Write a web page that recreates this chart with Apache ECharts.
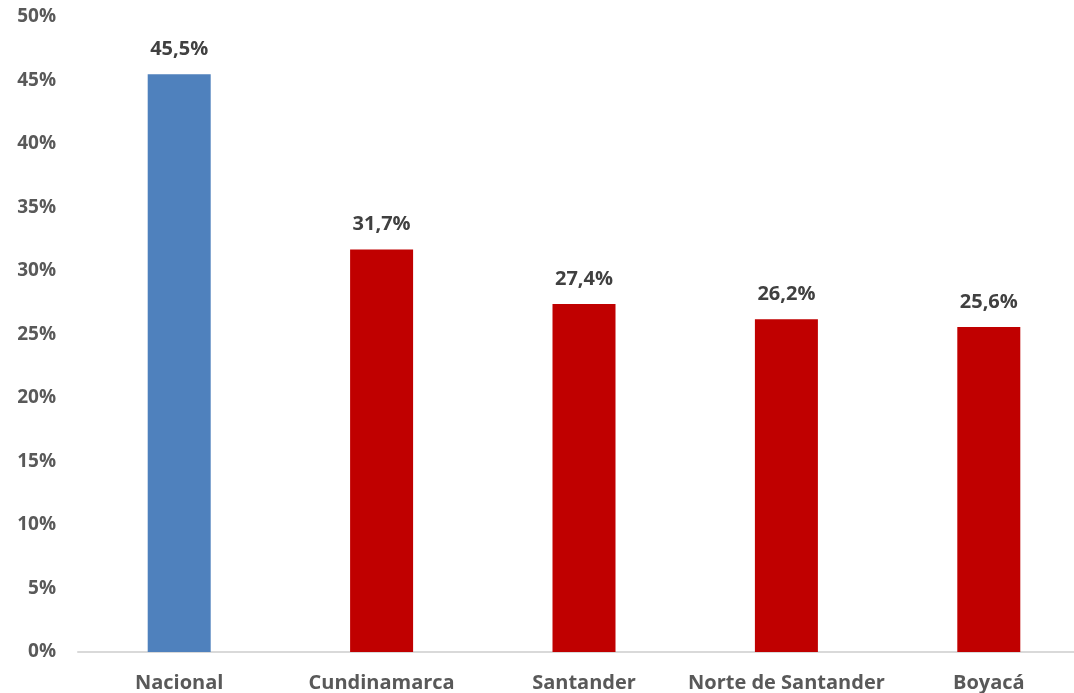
<!DOCTYPE html>
<html><head><meta charset="utf-8">
<script src="https://cdn.jsdelivr.net/npm/echarts@6/dist/echarts.min.js"></script>
<style>html,body{margin:0;padding:0;background:#fff}#c{width:1074px;height:693px}</style>
</head><body><div id="c"></div>
<script>
const categories = ["Nacional", "Cundinamarca", "Santander", "Norte de Santander", "Boyacá"];
const values = [45.5, 31.7, 27.4, 26.2, 25.6];
const barColors = ["#4F81BD", "#C00000", "#C00000", "#C00000", "#C00000"];
const FONT = "'Open Sans', sans-serif";
const chart = echarts.init(document.getElementById('c'));
chart.setOption({
  animation: false,
  grid: { left: 78, top: 17, right: -16, height: 635, containLabel: false, outerBoundsMode: 'none' },
  xAxis: {
    type: 'category', data: categories,
    axisLine: { lineStyle: { color: '#d9d9d9', width: 2 } },
    axisTick: { show: false },
    axisLabel: { interval: 0, color: '#595959', fontFamily: FONT, fontWeight: 'bold', fontSize: 20, margin: 21 }
  },
  yAxis: {
    type: 'value', min: 0, max: 50, interval: 5,
    splitLine: { show: false },
    axisLine: { show: false }, axisTick: { show: false },
    axisLabel: { formatter: v => v + '%', color: '#595959', fontFamily: FONT, fontWeight: 'bold', fontSize: 19, margin: 22 }
  },
  series: [{
    type: 'bar', barWidth: 63,
    data: values.map((v, i) => ({ value: v, itemStyle: { color: barColors[i] } })),
    label: { show: true, position: 'top', distance: 15, color: '#404040', fontFamily: FONT, fontWeight: 'bold', fontSize: 20,
      formatter: p => p.value.toFixed(1).replace('.', ',') + '%' }
  }]
});
</script></body></html>
